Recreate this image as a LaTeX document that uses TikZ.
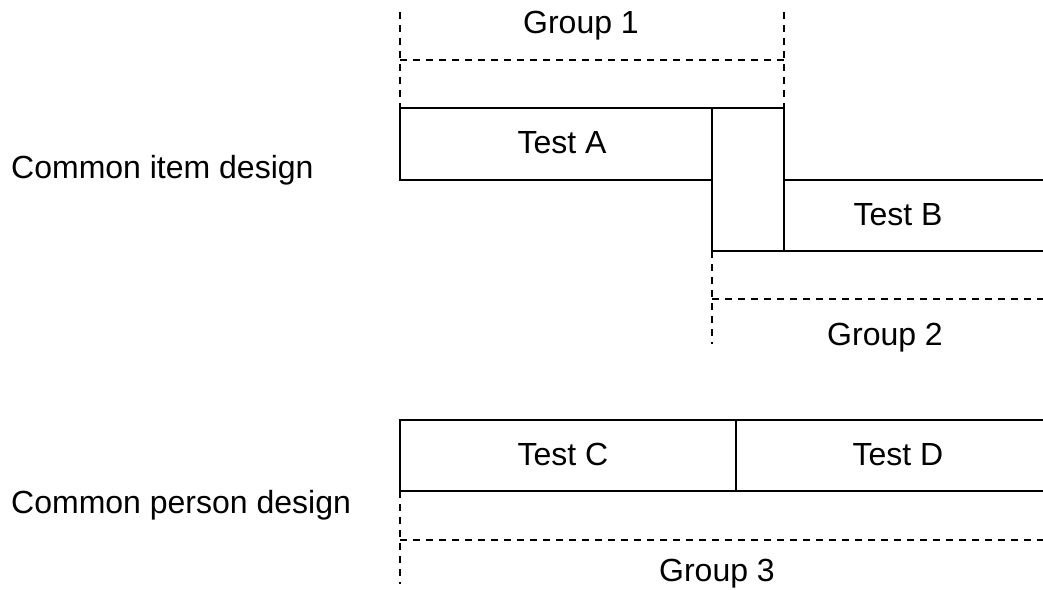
\documentclass[tikz,border=0pt]{standalone}
\usepackage{fontspec}
\setmainfont{Liberation Sans}
\begin{document}
\begin{tikzpicture}[x=1pt,y=-1pt,
  solidline/.style={draw=black,line width=2pt},
  groupline/.style={draw=black,line width=2pt,dash pattern=on 7pt off 6pt},
  lbl/.style={inner sep=0pt,anchor=base,font=\fontsize{32}{36}\selectfont},
  sidelbl/.style={lbl,anchor=base west}]
\useasboundingbox (0,0) rectangle (1043,589);

% corner points of the blocks
\coordinate (a1) at (400,108);
\coordinate (a2) at (712,108);
\coordinate (a3) at (784,108);
\coordinate (a4) at (400,180);
\coordinate (a5) at (712,180);
\coordinate (b1) at (784,180);
\coordinate (b2) at (1043,180);
\coordinate (b3) at (712,251);
\coordinate (b4) at (784,251);
\coordinate (b5) at (1043,251);
\coordinate (c1) at (400,420);
\coordinate (c2) at (736,420);
\coordinate (c3) at (1043,420);
\coordinate (c4) at (400,491);
\coordinate (c5) at (736,491);
\coordinate (c6) at (1043,491);

% group bracket ends
\coordinate (g1l) at (400,12);
\coordinate (g1r) at (784,12);
\coordinate (g1a) at (400,60);
\coordinate (g1b) at (784,60);
\coordinate (g2a) at (712,299);
\coordinate (g2b) at (1043,299);
\coordinate (g2e) at (712,344);
\coordinate (g3a) at (400,540);
\coordinate (g3b) at (1043,540);
\coordinate (g3e) at (400,584);

% common item design: Test A, the linking block, Test B
\path[solidline] (a5) -- (a4) -- (a1) -- (a3) -- (b4) -- (b3) -- (a2);
\path[solidline] (b1) -- (b2);
\path[solidline] (b4) -- (b5);

% common person design: Test C and Test D
\path[solidline] (c3) -- (c1) -- (c4) -- (c6);
\path[solidline] (c2) -- (c5);

% groups
\path[groupline] (g1l) -- (a1);
\path[groupline] (g1r) -- (a3);
\path[groupline] (g1a) -- (g1b);
\path[groupline] (b3) -- (g2e);
\path[groupline] (g2a) -- (g2b);
\path[groupline] (c4) -- (g3e);
\path[groupline] (g3a) -- (g3b);

% labels
\node[sidelbl] (item) at (11,178) {Common item design};
\node[sidelbl] (person) at (11,513) {Common person design};
\node[lbl] (grp1) at (581,33) {Group 1};
\node[lbl] (testA) at (562,153) {Test A};
\node[lbl] (testB) at (898,225) {Test B};
\node[lbl] (grp2) at (885,345) {Group 2};
\node[lbl] (testC) at (563,465) {Test C};
\node[lbl] (testD) at (898,465) {Test D};
\node[lbl] (grp3) at (717,581) {Group 3};
\end{tikzpicture}
\end{document}
